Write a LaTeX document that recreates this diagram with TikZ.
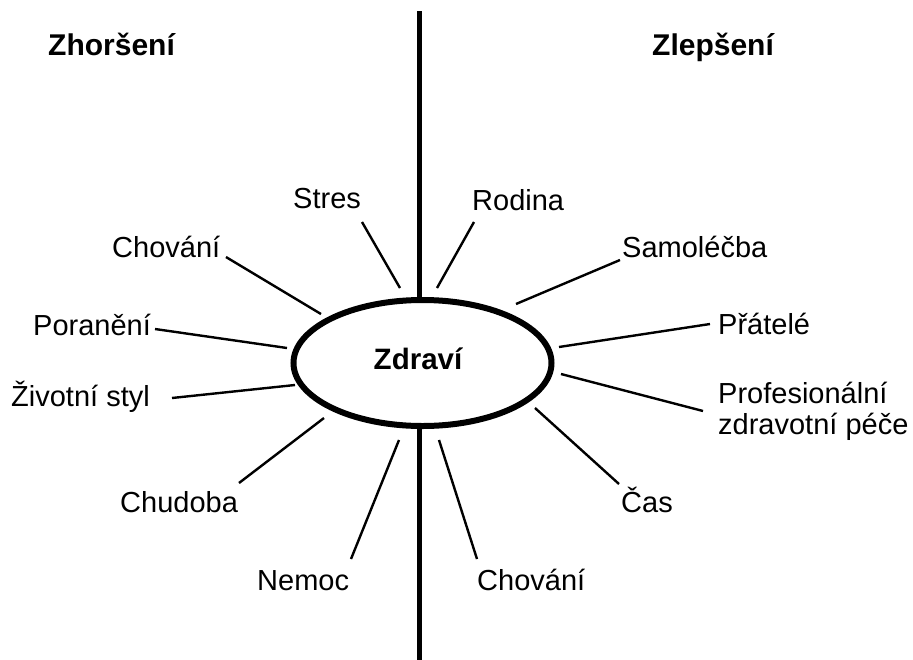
\documentclass[tikz,border=0pt]{standalone}
\usepackage{fontspec}
\setmainfont{Liberation Sans}
\usetikzlibrary{shapes.geometric}
\begin{document}
\begin{tikzpicture}[x=1pt,y=-1pt,
  lbl/.style={anchor=base west,inner sep=0pt,font=\fontsize{29}{31}\selectfont},
  head/.style={anchor=base west,inner sep=0pt,font=\fontsize{30}{32}\selectfont\bfseries},
  spoke/.style={line width=2.4pt},
  axis/.style={line width=5pt},
  hub/.style={draw,ellipse,fill=white,line width=6pt,minimum width=258pt,minimum height=126pt,inner sep=0pt}]
\useasboundingbox (0,0) rectangle (913,659);
% axis
\coordinate (top) at (419.5,11);
\coordinate (bot) at (419.5,662);
\draw[axis] (top) -- (bot);
% hub
\node[hub] (hubE) at (422.5,363) {};
\node[anchor=base,inner sep=0pt,font=\fontsize{29.5}{31}\selectfont\bfseries] (zdravi) at (418,369) {Zdraví};
% headings
\node[head] (zhor) at (48,55) {Zhoršení};
\node[head] (zlep) at (652,55) {Zlepšení};
% left labels
\node[lbl] (stres) at (293,208) {Stres};
\node[lbl] (chovL) at (112,257) {Chování};
\node[lbl] (poran) at (33,335) {Poranění};
\node[lbl] (zivot) at (11,406) {Životní styl};
\node[lbl] (chud) at (120,512) {Chudoba};
\node[lbl] (nemoc) at (257,590) {Nemoc};
% right labels
\node[lbl] (rodina) at (472,210) {Rodina};
\node[lbl] (samo) at (622,257) {Samoléčba};
\node[lbl] (prat) at (718,334) {Přátelé};
\node[lbl,align=left,anchor=north west] (prof) at (718,382) {Profesionální\\[0pt]zdravotní péče};
\node[lbl] (cas) at (621,512) {Čas};
\node[lbl] (chovR) at (477,590) {Chování};
% spoke end points
\coordinate (stresA) at (362,222);  \coordinate (stresB) at (400,288);
\coordinate (chovLA) at (226,257);  \coordinate (chovLB) at (321,314);
\coordinate (poranA) at (155,329);  \coordinate (poranB) at (287,348);
\coordinate (zivotA) at (172,398);  \coordinate (zivotB) at (295,385);
\coordinate (chudA) at (239,483);   \coordinate (chudB) at (324,418);
\coordinate (nemocA) at (351,559);  \coordinate (nemocB) at (399,440);
\coordinate (rodinaA) at (474,222); \coordinate (rodinaB) at (437,288);
\coordinate (samoA) at (620,260);   \coordinate (samoB) at (516,304);
\coordinate (pratA) at (710,324);   \coordinate (pratB) at (559,347);
\coordinate (profA) at (703,411);   \coordinate (profB) at (561,374);
\coordinate (casA) at (619,484);    \coordinate (casB) at (535,408);
\coordinate (chovRA) at (477,559);  \coordinate (chovRB) at (439,440);
\foreach \s in {stres,chovL,poran,zivot,chud,nemoc,rodina,samo,prat,prof,cas,chovR}
  \draw[spoke] (\s A) -- (\s B);
\end{tikzpicture}
\end{document}
